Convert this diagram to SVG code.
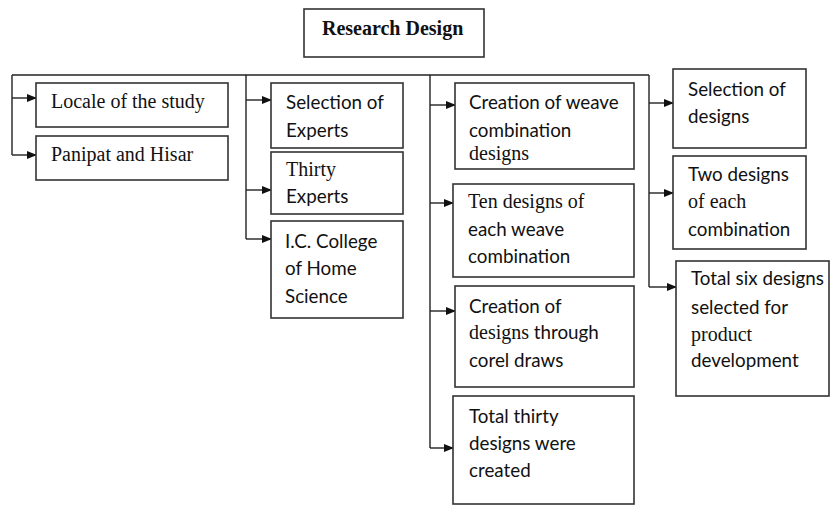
<svg xmlns="http://www.w3.org/2000/svg" width="830" height="505" viewBox="0 0 830 505">
<defs>
<marker id="ah" markerWidth="10" markerHeight="8" refX="9" refY="4" orient="auto" markerUnits="userSpaceOnUse">
<path d="M0,0 L10,4 L0,8 Z" fill="#111"/>
</marker>
<style>
.box{fill:#fff;stroke:#333;stroke-width:1.6}
.ln{fill:none;stroke:#222;stroke-width:1.4}
.ar{fill:none;stroke:#222;stroke-width:1.4;marker-end:url(#ah)}
.sf{font-family:"Liberation Serif","Times New Roman",serif;font-size:20px;fill:#111}
.ss{font-family:Lato,"Liberation Sans",sans-serif;font-size:18.8px;fill:#111}
.tt{font-family:"Liberation Serif","Times New Roman",serif;font-size:20px;font-weight:bold;fill:#111}
</style>
</defs>
<rect width="830" height="505" fill="#fff"/>
<g id="connectors">
<path class="ln" d="M12,75 H649"/>
<path class="ln" d="M12,75 V155"/>
<path class="ar" d="M12,98 H36"/>
<path class="ar" d="M12,155 H36"/>
<path class="ln" d="M246,75 V239"/>
<path class="ar" d="M246,100 H271"/>
<path class="ar" d="M246,190 H271"/>
<path class="ar" d="M246,239 H271"/>
<path class="ln" d="M430,75 V448"/>
<path class="ar" d="M430,105 H455"/>
<path class="ar" d="M430,203 H453"/>
<path class="ar" d="M430,311 H455"/>
<path class="ar" d="M430,448 H453"/>
<path class="ln" d="M649,75 V287"/>
<path class="ar" d="M649,103 H673"/>
<path class="ar" d="M649,193 H673"/>
<path class="ar" d="M649,287 H676"/>
</g>
<g id="research-design">
<rect class="box" x="304" y="9" width="180" height="48"/>
<text class="tt" x="322" y="35">Research Design</text>
</g>
<g id="locale">
<rect class="box" x="36" y="83" width="192" height="44"/>
<text class="sf" x="51" y="108">Locale of the study</text>
</g>
<g id="panipat">
<rect class="box" x="36" y="136" width="192" height="44"/>
<text class="sf" x="51" y="161">Panipat and Hisar</text>
</g>
<g id="selection-experts">
<rect class="box" x="271" y="83" width="132" height="65"/>
<text class="ss" x="286" y="109">Selection of</text>
<text class="ss" x="286" y="137">Experts</text>
</g>
<g id="thirty-experts">
<rect class="box" x="271" y="152" width="132" height="62"/>
<text class="sf" x="286" y="176">Thirty</text>
<text class="ss" x="286" y="203">Experts</text>
</g>
<g id="ic-college">
<rect class="box" x="271" y="221" width="132" height="97"/>
<text class="ss" x="285" y="248">I.C. College</text>
<text class="ss" x="285" y="275">of Home</text>
<text class="ss" x="285" y="303">Science</text>
</g>
<g id="creation-weave">
<rect class="box" x="455" y="83" width="179" height="86"/>
<text class="ss" x="469" y="109">Creation of weave</text>
<text class="ss" x="469" y="137">combination</text>
<text class="sf" x="469" y="160">designs</text>
</g>
<g id="ten-designs">
<rect class="box" x="453" y="184" width="181" height="93"/>
<text class="sf" x="468" y="208">Ten designs of</text>
<text class="ss" x="468" y="236">each weave</text>
<text class="ss" x="468" y="263">combination</text>
</g>
<g id="creation-corel">
<rect class="box" x="455" y="286" width="179" height="101"/>
<text class="ss" x="469" y="313">Creation of</text>
<text class="ss" x="469" y="339"><tspan style="font-family:'Liberation Serif',serif;font-size:20px">designs</tspan> through</text>
<text class="ss" x="469" y="367">corel draws</text>
</g>
<g id="total-thirty">
<rect class="box" x="453" y="396" width="181" height="108"/>
<text class="ss" x="469" y="423">Total thirty</text>
<text class="ss" x="469" y="450">designs were</text>
<text class="ss" x="469" y="477">created</text>
</g>
<g id="selection-designs">
<rect class="box" x="673" y="69" width="133" height="79"/>
<text class="ss" x="688" y="96">Selection of</text>
<text class="ss" x="688" y="123">designs</text>
</g>
<g id="two-designs">
<rect class="box" x="673" y="156" width="133" height="93"/>
<text class="ss" x="688" y="181">Two designs</text>
<text class="sf" x="688" y="208">of each</text>
<text class="ss" x="688" y="236">combination</text>
</g>
<g id="total-six">
<rect class="box" x="676" y="261" width="153" height="135"/>
<text class="ss" x="691" y="285">Total six designs</text>
<text class="ss" x="691" y="314">selected for</text>
<text class="sf" x="691" y="341">product</text>
<text class="ss" x="691" y="367">development</text>
</g>
</svg>
